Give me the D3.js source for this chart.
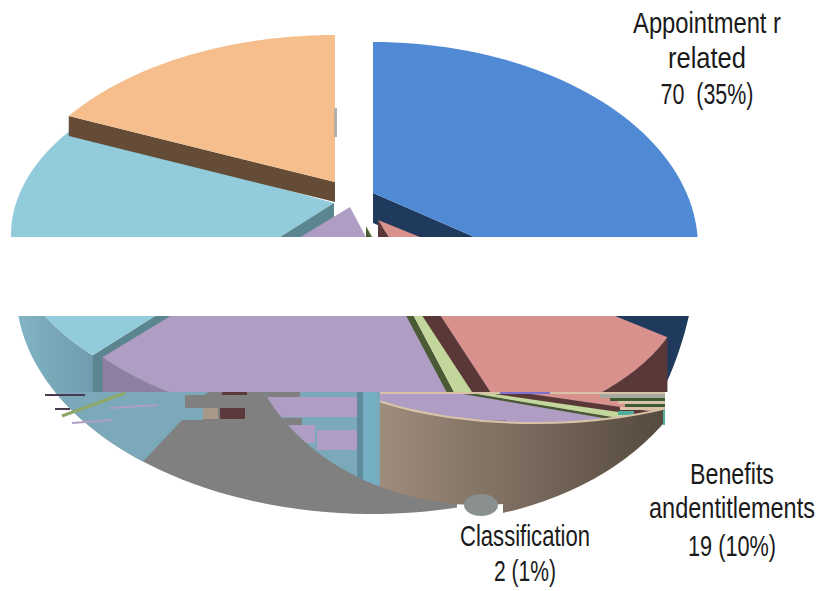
<!DOCTYPE html>
<html><head><meta charset="utf-8">
<style>html,body{margin:0;padding:0;background:#fff}svg{display:block}text{font-family:"Liberation Sans",sans-serif;fill:#1a1a1a}</style>
<script src="https://cdn.jsdelivr.net/npm/d3@7"></script></head><body>
<script>
// ---- data ----
const categories = ["Appointment related","Benefits and entitlements","Classification","Other A","Other B","Other C"];
const values = [70,19,2,36,43,30];
const topColors = ["#518AD4","#D8918D","#C3D69B","#AF9DC3","#92CBDB","#F5BE8C"];
const wallColors = ["#1F3A5C","#5A3838","#4A5A35","#8F7FA0","#5B858F","#654C36"];
const labelLines = [
  ["Appointment r","related","70  (35%)"],
  ["Benefits","andentitlements","19 (10%)"],
  ["Classification","2 (1%)"]];

// ---- layout: each exploded slice has its own apex, rim ellipse and wall depth ----
const geom = [
 {ax:373,ay:193,cx:373,cy:247,a:325,b:205,d:30,s:0,e:-14},
 {ax:378,ay:220,cx:378,cy:278,a:310,b:165,d:28,s:-15,e:-6},
 {ax:366,ay:226,cx:366,cy:230,a:325,b:195,d:14,s:-2.2,e:-1.8},
 {ax:350,ay:207,cx:350,cy:225,a:330,b:200,d:14,s:-3.1,e:0},
 {ax:334,ay:203,cx:338,cy:235,a:327,b:182,d:90,s:0,e:-1},
 {ax:335,ay:182,cx:335,cy:225,a:325,b:190,d:20,s:-1,e:0}];
const outlineE={cx:372,cy:290,a:356,b:224}, blueOuterE={cx:373,cy:235,a:325,b:344},
      tanE={cx:420,cy:306,a:290,b:216}, innerE={cx:480,cy:305,a:240,b:200}, lensE={cx:535,cy:340,a:230,b:83};

const W=820,H=591, rad=Math.PI/180;
const svg=d3.select("body").append("svg").attr("width",W).attr("height",H);
const defs=svg.append("defs");
function clip(id,x,y,w,h){defs.append("clipPath").attr("id",id).append("rect").attr("x",x).attr("y",y).attr("width",w).attr("height",h);}
clip("bandTop",0,0,W,237); clip("bandMid",0,316,W,76); clip("below",0,392,W,199);
clip("bLeft",0,392,457,199); clip("bCover",257,392,123,199); clip("bTan",380,392,123,199); clip("bTanR",503,392,162,199); clip("bLens",380,392,285,199);
function clipE(id,e){defs.append("clipPath").attr("id",id).append("ellipse").attr("cx",e.cx).attr("cy",e.cy).attr("rx",e.a).attr("ry",e.b);}
clipE("lens",lensE); clipE("inner",innerE);
function grad(id,x1,x2,c1,c2){const g=defs.append("linearGradient").attr("id",id).attr("gradientUnits","userSpaceOnUse").attr("x1",x1).attr("x2",x2).attr("y1",0).attr("y2",0);
  g.append("stop").attr("offset",0).attr("stop-color",c1);g.append("stop").attr("offset",1).attr("stop-color",c2);}
grad("gTan",380,665,"#9E8C7C","#554A3E"); grad("gTeal",20,95,"#80B3C3","#6F9CAC");

// pie angles come from the data
const arcs=d3.pie().sort(null).value(d=>d).startAngle(0).endAngle(2*Math.PI)(values);
const slices=arcs.map((p,i)=>{const g=geom[i];return Object.assign({},g,{i,t0:p.startAngle/rad+g.s,t1:p.endAngle/rad+g.e,top:topColors[i],wall:wallColors[i]});});

function rim(e,t){
  const x=d3.scaleLinear().domain([-1,1]).range([e.cx-e.a,e.cx+e.a]);
  const y=d3.scaleLinear().domain([-1,1]).range([e.cy-e.b,e.cy+e.b]);
  return [x(Math.sin(t*rad)),y(-Math.cos(t*rad))];
}
const line=d3.line();
const sweep=(t0,t1)=>d3.range(0,61).map(k=>t0+(t1-t0)*k/60);
const wedge=(ax,ay,e,t0,t1)=>line([[ax,ay],...sweep(t0,t1).map(t=>rim(e,t))])+"Z";
const band=(e1,e2,t0,t1,dy)=>line([...sweep(t0,t1).map(t=>rim(e1,t)),...sweep(t1,t0).map(t=>{const p=rim(e2,t);return [p[0],p[1]+dy];})])+"Z";
const radialWall=(s,t)=>{const p=rim(s,t);return line([[s.ax,s.ay],p,[p[0],p[1]+s.d],[s.ax,s.ay+s.d]])+"Z";};
function P(g,d,f){return g.append("path").attr("d",d).attr("fill",f);}

function drawMid(g){
  const [bl,pk,gr,pu,lb]=slices;
  P(g,wedge(bl.ax,bl.ay,blueOuterE,60,150),bl.wall);
  P(g,band(lb,outlineE,lb.t0-1,285,0),"url(#gTeal)");
  P(g,radialWall(lb,lb.t0),lb.wall);
  P(g,wedge(lb.ax,lb.ay,lb,lb.t0,lb.t1),lb.top);
  P(g,band(pu,pu,170,pu.t1,70),pu.wall);
  P(g,wedge(pu.ax,pu.ay,pu,pu.t0,pu.t1),pu.top);
  P(g,radialWall(gr,gr.t1),gr.wall);
  P(g,wedge(gr.ax,gr.ay,gr,gr.t0,gr.t1),gr.top);
  P(g,band(pk,pk,pk.t0,pk.t1,90),pk.wall);
  P(g,radialWall(pk,pk.t1),pk.wall);
  P(g,wedge(pk.ax,pk.ay,pk,pk.t0,pk.t1),pk.top);
}
function drawTop(g){
  const [bl,pk,gr,pu,lb,or]=slices;
  P(g,wedge(lb.ax,lb.ay,lb,lb.t0,lb.t1),lb.top);
  P(g,radialWall(lb,lb.t0),lb.wall);
  P(g,wedge(pu.ax,pu.ay,pu,pu.t0,pu.t1),pu.top);
  P(g,radialWall(or,or.t0),or.wall);
  P(g,wedge(or.ax,or.ay,or,or.t0,or.t1),or.top);
  P(g,radialWall(gr,gr.t1),gr.wall);
  P(g,wedge(gr.ax,gr.ay,gr,gr.t0,gr.t1),gr.top);
  P(g,radialWall(bl,bl.t1),bl.wall);
  P(g,wedge(bl.ax,bl.ay,bl,bl.t0,bl.t1),bl.top);
  P(g,radialWall(pk,pk.t1),pk.wall);
  P(g,wedge(pk.ax,pk.ay,pk,pk.t0,pk.t1),pk.top);
  g.append("rect").attr("x",334).attr("y",108).attr("width",3).attr("height",29).attr("fill","#B5AFA6");
}
const T=svg.append("g").attr("clip-path","url(#bandTop)"); drawTop(T);
const M=svg.append("g").attr("clip-path","url(#bandMid)"); drawMid(M);

// ---- broken lower region of the picture ----
const B=svg.append("g").attr("clip-path","url(#below)");
const GRAY="#808080", TEAL="#7BA9BA", PUR="#AF9DC3";
B.append("g").attr("clip-path","url(#bLeft)").append("path").attr("d",wedge(372,392,outlineE,120,255)).attr("fill",GRAY);
P(B,wedge(208,392,outlineE,220,262),TEAL);
function rectF(g,list){g.selectAll(null).data(list).join("rect").attr("x",d=>d[0]).attr("y",d=>d[1]).attr("width",d=>d[2]).attr("height",d=>d[3]).attr("fill",d=>d[4]);}
const cov=B.append("g").attr("clip-path","url(#bCover)").append("g").attr("clip-path","url(#inner)");
cov.append("rect").attr("x",250).attr("y",392).attr("width",135).attr("height",110).attr("fill",TEAL);
rectF(cov,[[257,392,43,5,GRAY],[257,397,100,20,PUR],[277,418,25,7,GRAY],[287,425,28,18,PUR],[317,430,40,20,PUR],
           [357,392,6,90,"#5E8A9C"],[363,392,14,100,"#74AEC2"]]);
rectF(B,[[140,392,50,16,TEAL],[185,395,72,13,GRAY],[222,392,25,3,"#5A3A3A"],[140,408,63,12,TEAL],[203,408,15,11,"#A89888"],[220,408,25,11,"#5A3A3A"]]);
B.append("line").attr("x1",45).attr("y1",395).attr("x2",85).attr("y2",395).attr("stroke","#4A3A50").attr("stroke-width",2);
B.append("line").attr("x1",55).attr("y1",409).attr("x2",70).attr("y2",409).attr("stroke","#4A3A50").attr("stroke-width",2);
B.append("line").attr("x1",62).attr("y1",416).attr("x2",125).attr("y2",393).attr("stroke","#8FA868").attr("stroke-width",3);
B.append("line").attr("x1",110).attr("y1",408).attr("x2",158).attr("y2",405).attr("stroke",PUR).attr("stroke-width",2);
B.append("line").attr("x1",72).attr("y1",423).attr("x2",112).attr("y2",420).attr("stroke",PUR).attr("stroke-width",2);
// tan wall
const tan1=B.append("g").attr("clip-path","url(#bTan)");
tan1.append("ellipse").attr("cx",innerE.cx).attr("cy",innerE.cy).attr("rx",innerE.a).attr("ry",innerE.b).attr("fill","url(#gTan)");
B.append("ellipse").attr("cx",481).attr("cy",505).attr("rx",17).attr("ry",11).attr("fill","#8A8F90");
const tan2=B.append("g").attr("clip-path","url(#bTanR)");
tan2.append("ellipse").attr("cx",tanE.cx).attr("cy",tanE.cy).attr("rx",tanE.a).attr("ry",tanE.b).attr("fill","url(#gTan)");
// squashed repeat of the slices on the top face's front
const L1=B.append("g").attr("clip-path","url(#bLens)").append("g").attr("clip-path","url(#lens)");
L1.append("rect").attr("x",380).attr("y",392).attr("width",285).attr("height",40).attr("fill",PUR);
const sq=L1.append("g").attr("transform","matrix(2,0,0.33,0.237,"+(490-834-0.33*316)+","+(395-0.237*316)+")");
drawMid(sq);
rectF(L1,[[380,392,120,2,"#D9C3A8"],[500,391,50,3,"#7F70D0"],[550,392,115,2,"#D9C3A8"],[600,394,65,4,"#A8A8A0"],[610,398,55,3,"#3E5A34"],[618,401,47,3,"#D9C3A8"],[625,404,40,3,"#3E5A34"],[620,407,45,3,"#D9C3A8"],[618,411,16,4,"#4FAE9C"]]);
B.append("g").attr("clip-path","url(#bLens)").append("ellipse").attr("cx",lensE.cx).attr("cy",lensE.cy).attr("rx",lensE.a).attr("ry",lensE.b).attr("fill","none").attr("stroke","#D9C3A8").attr("stroke-width",2);
rectF(B,[[663,410,2,15,"#4FAE9C"]]);

// ---- labels: condensed horizontally to the reference's widths ----
const labelPos=[{x:707,y:[33,68,104],w:[148,78,93]},{x:732,y:[484,518,556],w:[84,166,88]},{x:525,y:[546,581],w:[130,62]}];
labelLines.forEach((lines,i)=>lines.forEach((t,j)=>{
  const el=svg.append("text").attr("text-anchor","middle").attr("font-size",30).style("white-space","pre").text(t);
  const k=labelPos[i].w[j]/el.node().getComputedTextLength();
  el.attr("transform","translate("+labelPos[i].x+","+labelPos[i].y[j]+") scale("+k+",1)");
}));
</script></body></html>
